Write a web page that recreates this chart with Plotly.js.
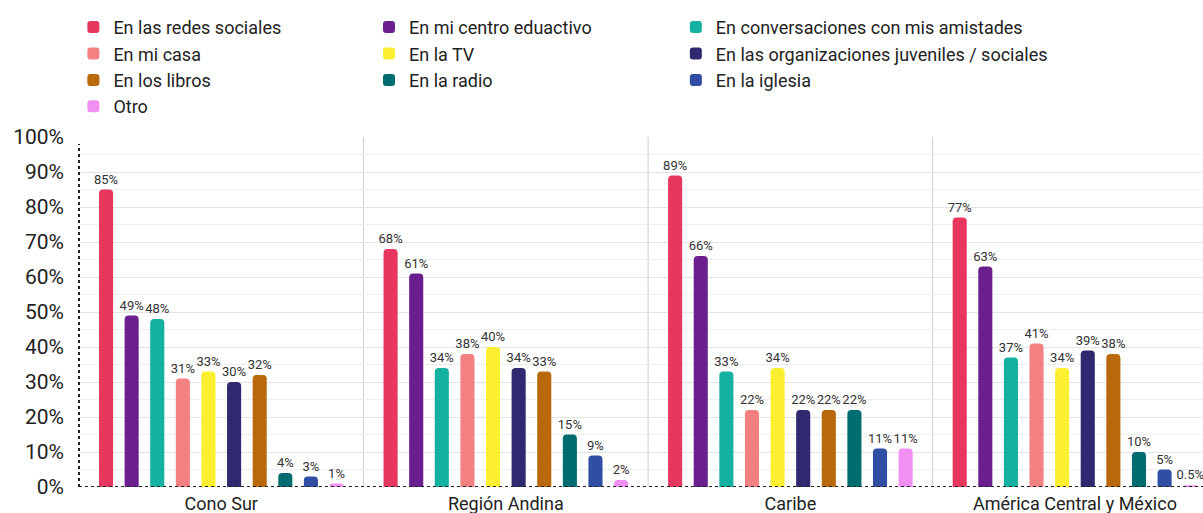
<!DOCTYPE html>
<html>
<head>
<meta charset="utf-8">
<script src="https://cdn.plot.ly/plotly-3.0.1.min.js"></script>
<style>
  html, body { margin: 0; padding: 0; background: #ffffff; overflow: hidden; }
  #chart { width: 1203px; height: 513px; }
</style>
</head>
<body>
<div id="chart"></div>
<script>
// Regions (x categories)
const regions = ["Cono Sur", "Región Andina", "Caribe", "América Central y México"];

// Series names (legend order)
const seriesNames = [
  "En las redes sociales",
  "En mi centro eduactivo",
  "En conversaciones con mis amistades",
  "En mi casa",
  "En la TV",
  "En las organizaciones juveniles / sociales",
  "En los libros",
  "En la radio",
  "En la iglesia",
  "Otro"
];

// Values per series, one per region (Cono Sur, Andina, Caribe, América Central y México)
const redesSociales   = [85, 68, 89, 77];
const centroEducativo = [49, 61, 66, 63];
const conversaciones  = [48, 34, 33, 37];
const miCasa          = [31, 38, 22, 41];
const laTV            = [33, 40, 34, 34];
const organizaciones  = [30, 34, 22, 39];
const libros          = [32, 33, 22, 38];
const radio           = [4, 15, 22, 10];
const iglesia         = [3, 9, 11, 5];
const otro            = [1, 2, 11, 0.5];

const seriesValues = [redesSociales, centroEducativo, conversaciones, miCasa, laTV,
                      organizaciones, libros, radio, iglesia, otro];

const seriesColors = ["#e8375f", "#6b1f8e", "#14b1a1", "#f38181", "#fcee30",
                      "#2f2a6f", "#b9690c", "#006c70", "#2f4ea4", "#f28ff2"];

const legendIds = ["legend", "legend2", "legend3"];

const traces = seriesNames.map((name, i) => ({
  type: "bar",
  name: name,
  legend: legendIds[i % 3],
  x: regions,
  y: seriesValues[i],
  text: seriesValues[i].map(v => v + "%"),
  textposition: "outside",
  constraintext: "none",
  cliponaxis: false,
  textfont: { family: "Roboto, sans-serif", size: 13, color: "#333333" },
  marker: { color: seriesColors[i], cornerradius: 4 },
  hovertemplate: "%{x}<br>" + name + ": %{y}%<extra></extra>"
}));

const shapes = [];
// separators between regions
[0.5, 1.5, 2.5].forEach(xv => {
  shapes.push({ type: "line", xref: "x", yref: "y", x0: xv, x1: xv, y0: 0, y1: 100,
                line: { color: "#cfcfcf", width: 1 }, layer: "below" });
});
// dotted baseline and dotted left axis
shapes.push({ type: "line", xref: "paper", yref: "y", x0: 0, x1: 1, y0: 0, y1: 0,
              line: { color: "#222222", width: 2, dash: "dot" } });
shapes.push({ type: "line", xref: "paper", yref: "y", x0: 0, x1: 0, y0: 0, y1: 98,
              line: { color: "#222222", width: 2, dash: "dot" } });

function legendAt(xPos) {
  return {
    orientation: "v",
    x: xPos, xanchor: "left",
    y: 1.366, yanchor: "top",
    traceorder: "normal",
    font: { family: "Roboto, sans-serif", size: 18, color: "#222222" },
    bgcolor: "rgba(0,0,0,0)"
  };
}

const layout = {
  width: 1203,
  height: 513,
  margin: { l: 79, r: 0, t: 137, b: 26 },
  paper_bgcolor: "#ffffff",
  plot_bgcolor: "#ffffff",
  font: { family: "Roboto, sans-serif", color: "#222222" },
  barmode: "group",
  bargap: 0.1,
  bargroupgap: 0.45,
  showlegend: true,
  legend: legendAt(-0.005),
  legend2: legendAt(0.258),
  legend3: legendAt(0.531),
  xaxis: {
    type: "category",
    range: [-0.5, 3.45],
    showgrid: false,
    showline: false,
    zeroline: false,
    ticks: "",
    ticklabelstandoff: 4,
    tickfont: { family: "Roboto, sans-serif", size: 18, color: "#222222" },
    fixedrange: true
  },
  yaxis: {
    range: [0, 100],
    dtick: 10,
    ticksuffix: "%",
    showgrid: true,
    gridcolor: "#e4e4e4",
    gridwidth: 1,
    minor: { dtick: 5, showgrid: true, gridcolor: "#eeeeee", gridwidth: 1 },
    zeroline: false,
    showline: false,
    ticks: "",
    ticklabelstandoff: 14,
    tickfont: { family: "Roboto, sans-serif", size: 21, color: "#222222" },
    fixedrange: true
  },
  shapes: shapes
};

Plotly.newPlot("chart", traces, layout, { displayModeBar: false, staticPlot: true });
</script>
</body>
</html>
